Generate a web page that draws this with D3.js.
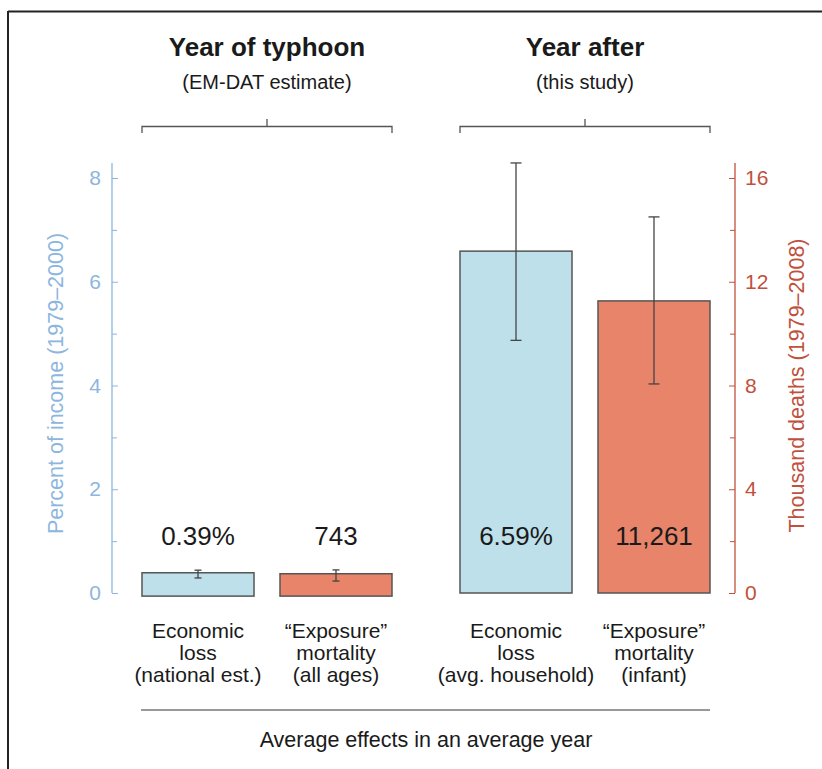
<!DOCTYPE html>
<html><head><meta charset="utf-8">
<script src="https://cdn.jsdelivr.net/npm/d3@7"></script>
<style>
html,body{margin:0;padding:0;background:#fff;}
svg{display:block;font-family:"Liberation Sans",Arial,sans-serif;}
</style></head>
<body>
<svg id="chart" width="822" height="769"></svg>
<script>
// ---- data ----
const groups = ["Year of typhoon", "Year after"];
const groupSubtitles = ["(EM-DAT estimate)", "(this study)"];
const categories = ["econNational", "mortAll", "econHousehold", "mortInfant"];
const categoryGroup = [0, 0, 1, 1];
const categoryLabels = [
  ["Economic", "loss", "(national est.)"],
  ["\u201CExposure\u201D", "mortality", "(all ages)"],
  ["Economic", "loss", "(avg. household)"],
  ["\u201CExposure\u201D", "mortality", "(infant)"]
];
const categoryAxis = ["left", "right", "left", "right"];   // percent of income / thousand deaths
const values = [0.39, 0.743, 6.59, 11.261];
const baseValues = [-0.06, -0.12, 0, 0];
const errLow = [0.29, 0.46, 4.87, 8.06];
const errHigh = [0.44, 0.89, 8.29, 14.5];
const valueLabels = ["0.39%", "743", "6.59%", "11,261"];
const leftTicks = [0, 2, 4, 6, 8];
const leftMinor = [1, 3, 5, 7];
const rightTicks = [0, 4, 8, 12, 16];
const rightMinor = [2, 6, 10, 14];
const leftTitle = "Percent of income (1979\u20132000)";
const rightTitle = "Thousand deaths (1979\u20132008)";
const footer = "Average effects in an average year";

// ---- styles ----
const leftColor = "#8db6de", rightColor = "#c0513c";
const fills = {left: "#bde0ea", right: "#e8846a"};
const textColor = "#1a1a1a";

const svg = d3.select("#chart");

// frame (top and left only)
svg.append("line").attr("x1", 8).attr("x2", 822).attr("y1", 11.5).attr("y2", 11.5).attr("stroke", "#222").attr("stroke-width", 2);
svg.append("line").attr("x1", 8).attr("x2", 8).attr("y1", 11).attr("y2", 769).attr("stroke", "#222").attr("stroke-width", 2);

// scales
const yL = d3.scaleLinear().domain([0, 8]).range([593, 178]);
const yR = d3.scaleLinear().domain([0, 16]).range([593, 178]);
const xG = d3.scaleBand().domain(d3.range(groups.length)).range([142, 710]).paddingInner(68 / 318).paddingOuter(0);
const xIn = d3.scaleBand().domain([0, 1]).range([0, xG.bandwidth()]).paddingInner(26 / 138).paddingOuter(0);
const idxInGroup = categories.map((c, i) => categoryGroup.slice(0, i).filter(g => g === categoryGroup[i]).length);
const xPos = i => xG(categoryGroup[i]) + xIn(idxInGroup[i]);
const bw = xIn.bandwidth();
const yOf = i => categoryAxis[i] === "left" ? yL : yR;

// left axis
const lAx = svg.append("g").attr("transform", "translate(112,0)");
lAx.call(d3.axisLeft(yL).tickValues(leftTicks).tickSize(-6).tickPadding(11).tickFormat(d3.format("d")));
lAx.select(".domain").remove();
lAx.selectAll(".tick line").attr("stroke", leftColor);
lAx.selectAll(".tick text").attr("fill", leftColor).style("font-size", "21px").style("font-family", "Liberation Sans, Arial, sans-serif");
const lMin = svg.append("g").attr("transform", "translate(112,0)");
lMin.call(d3.axisLeft(yL).tickValues(leftMinor).tickSize(-5).tickFormat(""));
lMin.select(".domain").remove();
lMin.selectAll(".tick line").attr("stroke", leftColor);
svg.append("line").attr("x1", 112).attr("x2", 112).attr("y1", yL(8.29)).attr("y2", yL(0)).attr("stroke", leftColor).attr("stroke-width", 1.3);
svg.append("text").attr("transform", `translate(63,${(yL(0) + yL(8)) / 2 - 2}) rotate(-90)`)
  .attr("text-anchor", "middle").attr("fill", leftColor).style("font-size", "21.5px").text(leftTitle);

// right axis
const rAx = svg.append("g").attr("transform", "translate(735,0)");
rAx.call(d3.axisRight(yR).tickValues(rightTicks).tickSize(-6).tickPadding(10).tickFormat(d3.format("d")));
rAx.select(".domain").remove();
rAx.selectAll(".tick line").attr("stroke", rightColor);
rAx.selectAll(".tick text").attr("fill", rightColor).style("font-size", "21px").style("font-family", "Liberation Sans, Arial, sans-serif");
const rMin = svg.append("g").attr("transform", "translate(735,0)");
rMin.call(d3.axisRight(yR).tickValues(rightMinor).tickSize(-5).tickFormat(""));
rMin.select(".domain").remove();
rMin.selectAll(".tick line").attr("stroke", rightColor);
svg.append("line").attr("x1", 735).attr("x2", 735).attr("y1", yR(16.58)).attr("y2", yR(0)).attr("stroke", rightColor).attr("stroke-width", 1.3);
svg.append("text").attr("transform", `translate(804,${(yR(0) + yR(16)) / 2}) rotate(-90)`)
  .attr("text-anchor", "middle").attr("fill", rightColor).style("font-size", "21.5px").text(rightTitle);

// bars
const idx = d3.range(categories.length);
svg.append("g").selectAll("rect").data(idx).join("rect")
  .attr("x", i => xPos(i)).attr("width", bw)
  .attr("y", i => yOf(i)(values[i]))
  .attr("height", i => yOf(i)(baseValues[i]) - yOf(i)(values[i]))
  .attr("fill", i => fills[categoryAxis[i]])
  .attr("stroke", "#555").attr("stroke-width", 1.5);

// error bars
const eb = svg.append("g").attr("stroke", "#444").attr("stroke-width", 1.3);
idx.forEach(i => {
  const cx = xPos(i) + bw / 2, y = yOf(i);
  const cap = categoryGroup[i] === 0 ? 3.5 : 5.5;
  eb.append("line").attr("x1", cx).attr("x2", cx).attr("y1", y(errLow[i])).attr("y2", y(errHigh[i]));
  eb.append("line").attr("x1", cx - cap).attr("x2", cx + cap).attr("y1", y(errLow[i])).attr("y2", y(errLow[i]));
  eb.append("line").attr("x1", cx - cap).attr("x2", cx + cap).attr("y1", y(errHigh[i])).attr("y2", y(errHigh[i]));
});

// value labels
svg.append("g").selectAll("text").data(idx).join("text")
  .attr("x", i => xPos(i) + bw / 2).attr("y", 545)
  .attr("text-anchor", "middle").attr("fill", textColor).style("font-size", "26px")
  .text(i => valueLabels[i]);

// category labels
idx.forEach(i => {
  const t = svg.append("text").attr("text-anchor", "middle").attr("fill", textColor).style("font-size", "21px");
  categoryLabels[i].forEach((ln, k) => {
    t.append("tspan").attr("x", xPos(i) + bw / 2).attr("y", 638 + k * 22).text(ln);
  });
});

// group titles and brackets
groups.forEach((g, gi) => {
  const x0 = xG(gi), x1 = xG(gi) + xG.bandwidth(), cx = (x0 + x1) / 2;
  svg.append("text").attr("x", cx).attr("y", 56).attr("text-anchor", "middle")
    .attr("fill", textColor).style("font-size", "26px").style("font-weight", "bold").text(g);
  svg.append("text").attr("x", cx).attr("y", 89).attr("text-anchor", "middle")
    .attr("fill", textColor).style("font-size", "20px").text(groupSubtitles[gi]);
  svg.append("path")
    .attr("d", `M${x0},133V126.5H${x1}V133M${cx},126.5V119`)
    .attr("fill", "none").attr("stroke", "#555").attr("stroke-width", 1.3);
});

// footer line and text
svg.append("line").attr("x1", xG(0) - 1).attr("x2", xG(1) + xG.bandwidth()).attr("y1", 710).attr("y2", 710)
  .attr("stroke", "#777").attr("stroke-width", 1.3);
svg.append("text").attr("x", (xG(0) + xG(1) + xG.bandwidth()) / 2).attr("y", 747).attr("text-anchor", "middle")
  .attr("fill", textColor).style("font-size", "21.5px").text(footer);
</script>
</body></html>
